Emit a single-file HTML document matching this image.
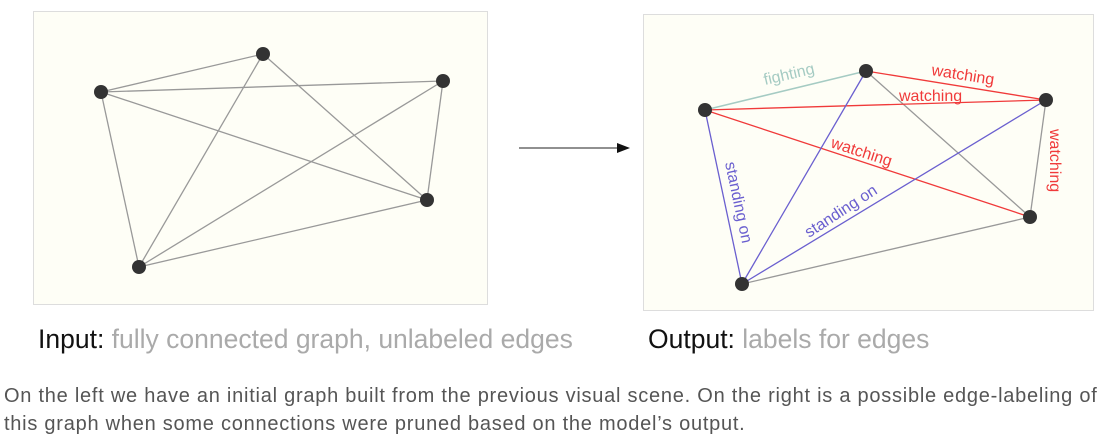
<!DOCTYPE html>
<html><head><meta charset="utf-8"><style>
body{margin:0;width:1108px;height:448px;background:#fff;font-family:"Liberation Sans",sans-serif;position:relative;overflow:hidden}
.cap{position:absolute;font-size:26.5px;color:#111;top:324px;white-space:nowrap}
.cap span{color:#aaa}
.p{position:absolute;left:4px;top:382px;font-size:20px;letter-spacing:0.75px;line-height:28px;color:#555;width:1108px;white-space:nowrap}
</style></head><body>
<svg width="1108" height="320" style="position:absolute;left:0;top:0" font-family="Liberation Sans, sans-serif">
<rect x="33.5" y="11.5" width="454" height="293" fill="#fefef6" stroke="#ddd"/>
<g stroke="#999" stroke-width="1.3">
<line x1="101" y1="92" x2="263" y2="54"/><line x1="101" y1="92" x2="443" y2="81"/>
<line x1="101" y1="92" x2="427" y2="200"/><line x1="101" y1="92" x2="139" y2="267"/>
<line x1="263" y1="54" x2="139" y2="267"/><line x1="263" y1="54" x2="427" y2="200"/>
<line x1="443" y1="81" x2="139" y2="267"/><line x1="443" y1="81" x2="427" y2="200"/>
<line x1="139" y1="267" x2="427" y2="200"/></g>
<g fill="#333"><circle cx="101" cy="92" r="7"/><circle cx="263" cy="54" r="7"/><circle cx="443" cy="81" r="7"/><circle cx="427" cy="200" r="7"/><circle cx="139" cy="267" r="7"/></g>
<line x1="519" y1="148" x2="620" y2="148" stroke="#222" stroke-width="1"/>
<polygon points="617,143 630,148 617,153" fill="#111"/>
<rect x="643.5" y="14.5" width="450" height="296" fill="#fefef6" stroke="#ddd"/>
<line x1="705" y1="110" x2="866" y2="71" stroke="#a5cbc3" stroke-width="1.5"/>
<g stroke="#999" stroke-width="1.3"><line x1="866" y1="71" x2="1030" y2="217"/><line x1="742" y1="284" x2="1030" y2="217"/><line x1="1046" y1="100" x2="1030" y2="217"/></g>
<g stroke="#f03a3a" stroke-width="1.3"><line x1="866" y1="71" x2="1046" y2="100"/><line x1="705" y1="110" x2="1046" y2="100"/><line x1="705" y1="110" x2="1030" y2="217"/></g>
<g stroke="#6a5fcf" stroke-width="1.3"><line x1="705" y1="110" x2="742" y2="284"/><line x1="866" y1="71" x2="742" y2="284"/><line x1="1046" y1="100" x2="742" y2="284"/></g>
<g fill="#333"><circle cx="705" cy="110" r="7"/><circle cx="866" cy="71" r="7"/><circle cx="1046" cy="100" r="7"/><circle cx="1030" cy="217" r="7"/><circle cx="742" cy="284" r="7"/></g>
<g font-size="16">
<text x="765" y="85" fill="#a5cbc3" transform="rotate(-13 765 85)">fighting</text>
<text x="931" y="75" fill="#f03a3a" transform="rotate(9 931 75)">watching</text>
<text x="899" y="101" fill="#f03a3a">watching</text>
<text x="830" y="147" fill="#f03a3a" transform="rotate(18 830 147)">watching</text>
<text x="1050" y="129" fill="#f03a3a" transform="rotate(90 1050 129)">watching</text>
<text x="725" y="163" fill="#6a5fcf" transform="rotate(78 725 163)">standing on</text>
<text x="809" y="238" fill="#6a5fcf" transform="rotate(-33 809 238)">standing on</text>
</g>
</svg>
<div class="cap" style="left:38px">Input: <span>fully connected graph, unlabeled edges</span></div>
<div class="cap" style="left:648px">Output: <span>labels for edges</span></div>
<div class="p">On the left we have an initial graph built from the previous visual scene. On the right is a possible edge-labeling of<br>this graph when some connections were pruned based on the model’s output.</div>
</body></html>
